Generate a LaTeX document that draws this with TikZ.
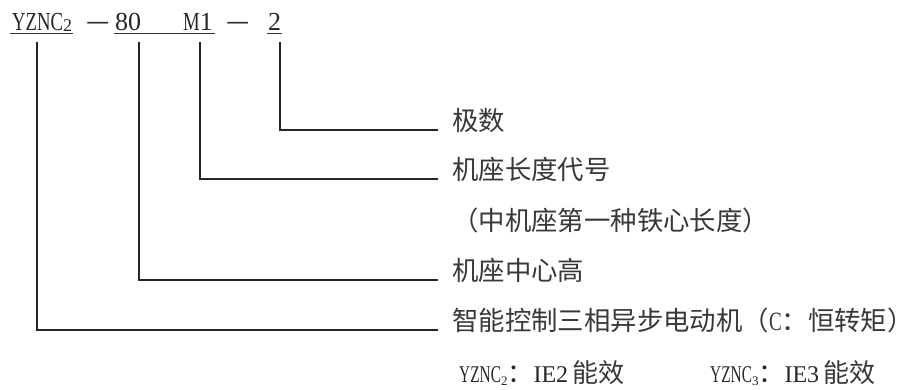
\documentclass[tikz,border=0pt]{standalone}
\usepackage{fontspec}
\setmainfont{Liberation Serif}
\newfontfamily\cjk{Noto Sans CJK SC}
\newfontfamily\nsertop{Liberation Serif}[FakeStretch=0.72]
\newfontfamily\nserbot{Liberation Serif}[FakeStretch=0.64]
\usetikzlibrary{calc}
\begin{document}
\begin{tikzpicture}[x=1pt,y=-1pt,
  txt/.style={inner sep=0pt, text=black!85, font=\fontsize{26}{26}\selectfont},
  lab/.style={inner xsep=14pt, inner ysep=0pt, text=black!78, font=\cjk\fontsize{26.4}{26.4}\selectfont},
  conn/.style={line width=1.1pt, draw=black!85},
  uline/.style={line width=0.9pt, draw=black!80},
]
\useasboundingbox (0,0) rectangle (917,389);

% top designation
\node[txt,anchor=base west] (yz) at (12,30) {{\nsertop YZNC}\raisebox{-1.5pt}{\fontsize{18}{18}\selectfont 2}};
\node[txt,anchor=base west] (da) at (86,30) {{\cjk —}};
\node[txt,anchor=base west] (n80) at (115,30) {80};
\node[txt,anchor=base west] (m1) at (183,30) {{\nsertop M}1};
\node[txt,anchor=base west] (db) at (226,30) {{\cjk —}};
\node[txt,anchor=base west] (n2) at (268,30) {2};

\draw[uline] ($(yz.base west)+(-2,3)$) -- ($(yz.base east)+(1,3)$);
\draw[uline] ($(n80.base west)+(-1,3)$) -- ($(m1.base east)+(2,3)$);
\draw[uline] ($(n2.base west)+(-1,3)$) -- ($(n2.base east)+(1,3)$);

% start points of the leaders
\coordinate (v1) at (37,42);
\coordinate (v2) at (139,42);
\coordinate (v3) at (200,42);
\coordinate (v4) at (280,42);

% labels
\node[lab,anchor=base west] (t1) at (438,130) {极数};
\node[lab,anchor=base west] (t2) at (438,179) {机座长度代号};
\node[lab,anchor=base west] (t3) at (438,230) {（中机座第一种铁心长度）};
\node[lab,anchor=base west] (t4) at (438,280) {机座中心高};
\node[lab,anchor=base west] (t5) at (438,330) {智能控制三相异步电动机（{\nsertop C}：恒转矩）};

\draw[conn] (v4) |- (t1.base west);
\draw[conn] (v3) |- (t2.base west);
\draw[conn] (v2) |- (t4.base west);
\draw[conn] (v1) |- (t5.base west);

% efficiency notes
\node[txt,anchor=base west,font=\fontsize{24}{24}\selectfont] (e2) at (459,382)
  {{\nserbot YZNC}\raisebox{-3pt}{\fontsize{13}{13}\selectfont 2}{\cjk\fontsize{26}{26}\selectfont ：}IE2\,{\cjk\color{black!78}\fontsize{26}{26}\selectfont 能效}};
\node[txt,anchor=base west,font=\fontsize{24}{24}\selectfont] (e3) at (710,382)
  {{\nserbot YZNC}\raisebox{-3pt}{\fontsize{13}{13}\selectfont 3}{\cjk\fontsize{26}{26}\selectfont ：}IE3\,{\cjk\color{black!78}\fontsize{26}{26}\selectfont 能效}};
\end{tikzpicture}
\end{document}
